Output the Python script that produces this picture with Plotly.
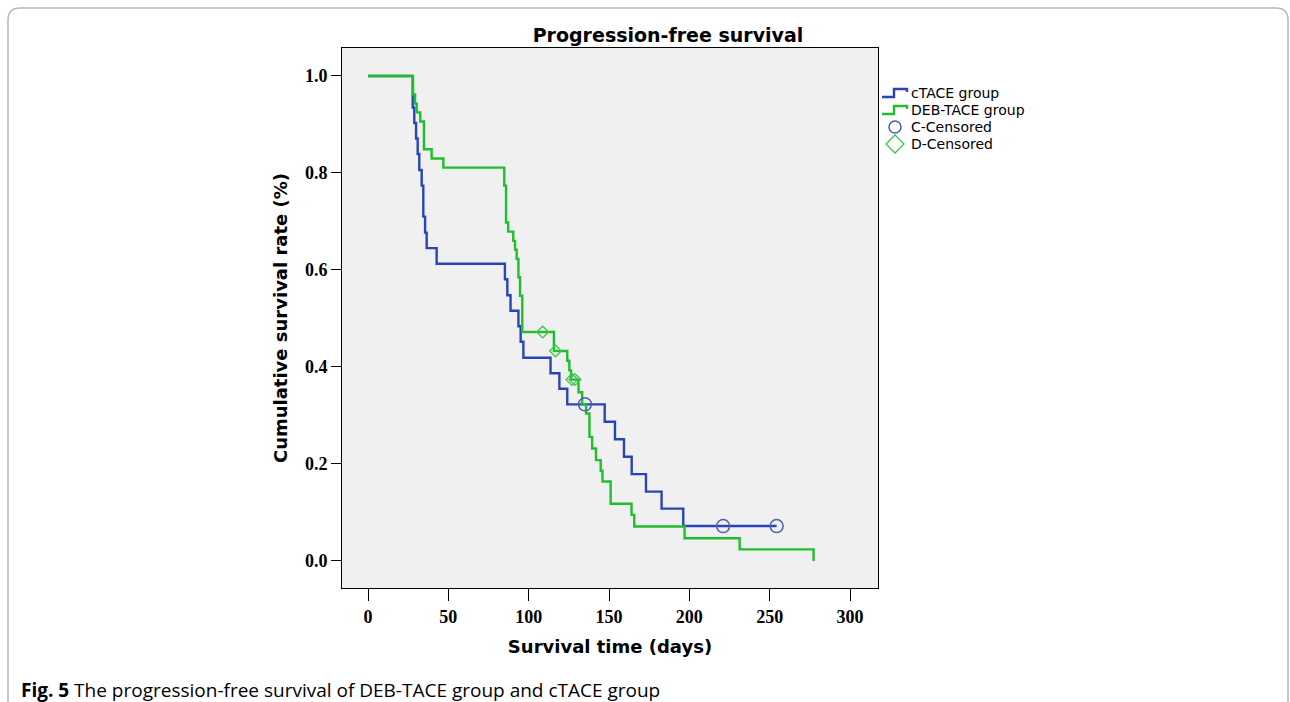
import plotly.graph_objects as go

# ---- data ----
ctace_time = [0, 27.8, 28.8, 29.9, 30.9, 31.9, 33.4, 34.4, 35.5, 36.5, 42.7,
              85.2, 86.7, 88.7, 93.6, 95.0, 96.7, 113.6, 119.1, 124.0,
              147.3, 153.7, 159.3, 164.1, 173.0, 182.7, 196.2, 254.3]
ctace_surv = [1.0, 0.935, 0.903, 0.871, 0.839, 0.806, 0.774, 0.710, 0.677, 0.645, 0.613,
              0.581, 0.548, 0.516, 0.484, 0.452, 0.419, 0.387, 0.355, 0.323,
              0.287, 0.251, 0.215, 0.179, 0.143, 0.108, 0.072, 0.072]
ctace_cens_time = [135.0, 221.0, 254.3]
ctace_cens_surv = [0.323, 0.072, 0.072]

deb_time = [0, 28.0, 29.3, 30.3, 32.5, 34.8, 39.6, 46.9,
            84.8, 85.9, 87.2, 90.4, 91.5, 92.5, 93.6, 94.6, 96.0,
            115.7, 124.0, 125.3, 126.4, 131.0, 133.3, 135.7, 137.8, 139.5,
            141.9, 144.8, 145.9, 151.0, 164.0, 165.7, 197.0, 231.3, 277.3]
deb_surv = [1.0, 0.962, 0.943, 0.925, 0.906, 0.849, 0.830, 0.811,
            0.774, 0.698, 0.679, 0.660, 0.642, 0.623, 0.585, 0.547, 0.472,
            0.433, 0.413, 0.393, 0.374, 0.348, 0.323, 0.304, 0.256, 0.232,
            0.208, 0.186, 0.164, 0.118, 0.095, 0.071, 0.047, 0.024, 0.0]
deb_cens_time = [108.7, 116.7, 126.9, 128.8]
deb_cens_surv = [0.472, 0.433, 0.374, 0.374]

x_ticks = [0, 50, 100, 150, 200, 250, 300]
y_ticks = [0.0, 0.2, 0.4, 0.6, 0.8, 1.0]
legend_labels = ["cTACE group", "DEB-TACE group", "C-Censored", "D-Censored"]

BLUE = "#2a44b8"
GREEN = "#1fbe2c"
BLUE_M = "#4a5cb8"
GREEN_M = "#3cc24a"

fig = go.Figure()
fig.add_trace(go.Scatter(x=ctace_time, y=ctace_surv, mode="lines", line_shape="hv",
                         line=dict(color=BLUE, width=2.4), name=legend_labels[0]))
fig.add_trace(go.Scatter(x=deb_time, y=deb_surv, mode="lines", line_shape="hv",
                         line=dict(color=GREEN, width=2.4), name=legend_labels[1]))
fig.add_trace(go.Scatter(x=ctace_cens_time, y=ctace_cens_surv, mode="markers",
                         marker=dict(symbol="circle-open", size=13, color=BLUE_M,
                                     line=dict(width=1.5)),
                         name=legend_labels[2]))
fig.add_trace(go.Scatter(x=deb_cens_time, y=deb_cens_surv, mode="markers",
                         marker=dict(symbol="diamond-open", size=9, color=GREEN_M,
                                     line=dict(width=1.3)),
                         name=legend_labels[3]))

# plot-area geometry in pixels
L, R, T, B = 342, 878, 48, 588
W, H = 1290, 702


def px(x):
    return (x - L) / (R - L)


def py(y):
    return (B - y) / (B - T)


# rounded outer border
x0, x1, y0, y1, r = 8, 1288, 8, 740, 12
path = (f"M {px(x0 + r)},{py(y0)} L {px(x1 - r)},{py(y0)} "
        f"Q {px(x1)},{py(y0)} {px(x1)},{py(y0 + r)} L {px(x1)},{py(y1)} "
        f"L {px(x0)},{py(y1)} L {px(x0)},{py(y0 + r)} "
        f"Q {px(x0)},{py(y0)} {px(x0 + r)},{py(y0)}")
shapes = [dict(type="path", path=path, xref="paper", yref="paper",
               line=dict(color="#b8b8b8", width=1.5), layer="below")]

# hand-drawn legend (SPSS style)
leg_x, leg_y0, leg_dy = 882, 93, 17
annotations = []
for i, lab in enumerate(legend_labels):
    cy = leg_y0 + i * leg_dy
    annotations.append(dict(text=lab, x=px(909), y=py(cy), xref="paper", yref="paper",
                            xanchor="left", yanchor="middle", showarrow=False,
                            font=dict(family="DejaVu Sans", size=14, color="black")))
for i, col in enumerate([BLUE, GREEN]):
    cy = leg_y0 + i * leg_dy
    p = (f"M {px(leg_x)},{py(cy + 4)} L {px(leg_x + 12)},{py(cy + 4)} "
         f"L {px(leg_x + 12)},{py(cy - 4)} L {px(leg_x + 25)},{py(cy - 4)} "
         f"L {px(leg_x + 25)},{py(cy - 1)}")
    shapes.append(dict(type="path", path=p, xref="paper", yref="paper",
                       line=dict(color=col, width=2.4)))
cy = leg_y0 + 2 * leg_dy
shapes.append(dict(type="circle", xref="paper", yref="paper",
                   x0=px(leg_x + 7), x1=px(leg_x + 19), y0=py(cy + 6), y1=py(cy - 6),
                   line=dict(color=BLUE_M, width=1.5)))
cy = leg_y0 + 3 * leg_dy
cx = leg_x + 13
d = (f"M {px(cx)},{py(cy - 9)} L {px(cx + 9)},{py(cy)} L {px(cx)},{py(cy + 9)} "
     f"L {px(cx - 9)},{py(cy)} Z")
shapes.append(dict(type="path", path=d, xref="paper", yref="paper",
                   line=dict(color=GREEN_M, width=1.3)))

annotations.append(dict(text="<b>Fig. 5</b> The progression-free survival of DEB-TACE group and cTACE group",
                        x=px(19), y=py(690), xref="paper", yref="paper", xanchor="left",
                        yanchor="middle", showarrow=False,
                        font=dict(family="Open Sans", size=19, color="black")))

fig.update_layout(
    width=W, height=H,
    margin=dict(l=L, r=W - R, t=T, b=H - B),
    paper_bgcolor="white",
    plot_bgcolor="#f0f0f0",
    showlegend=False,
    title=dict(text="Progression-free survival", x=668 / W, xanchor="center",
               y=1 - 35 / H, yanchor="middle",
               font=dict(family="DejaVu Sans", size=19, color="black", weight="bold")),
    shapes=shapes,
    annotations=annotations,
)

fig.update_xaxes(range=[-16.2, 317.4], tickvals=x_ticks, ticktext=[str(v) for v in x_ticks],
                 showgrid=False, zeroline=False, showline=True, linecolor="black", linewidth=1,
                 mirror=True, ticks="outside", ticklen=12, tickcolor="black",
                 tickfont=dict(family="Liberation Serif", size=18, color="black", weight="bold"),
                 title=dict(text="Survival time (days)", standoff=14,
                            font=dict(family="DejaVu Sans", size=18, color="black", weight="bold")))
fig.update_yaxes(range=[-0.0557, 1.0577], tickvals=y_ticks, ticktext=[f"{v:.1f}" for v in y_ticks],
                 showgrid=False, zeroline=False, showline=True, linecolor="black", linewidth=1,
                 mirror=True, ticks="outside", ticklen=10, tickcolor="black",
                 tickfont=dict(family="Liberation Serif", size=18, color="black", weight="bold"),
                 title=dict(text="Cumulative survival rate (%)", standoff=12,
                            font=dict(family="DejaVu Sans", size=18, color="black", weight="bold")))

fig.write_html("out.html")
